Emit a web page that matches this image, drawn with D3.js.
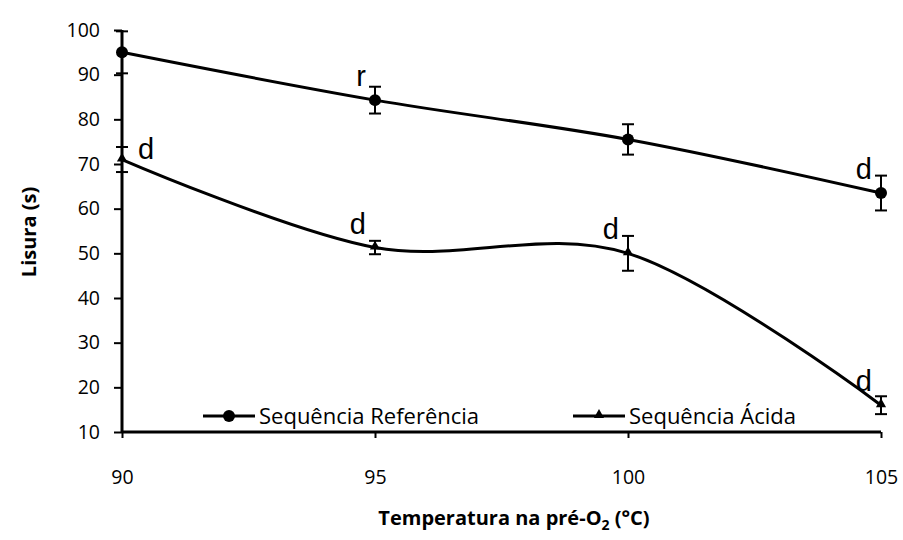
<!DOCTYPE html>
<html>
<head>
<meta charset="utf-8">
<script src="https://d3js.org/d3.v7.min.js"></script>
<style>
  body { margin: 0; background: #fff; }
  text { font-family: "Open Sans", sans-serif; fill: #000; }
</style>
</head>
<body>
<div id="viz"></div>
<script>
// chart values
var temps = [90, 95, 100, 105];
var refVals = [95.0, 84.3, 75.5, 63.5];
var refErr = [4.7, 3.0, 3.4, 3.9];
var refLabels = ["", "r", "", "d"];
var acidVals = [71.0, 51.3, 50.0, 16.0];
var acidErr = [2.8, 1.5, 3.9, 2.0];
var acidLabels = ["d", "d", "d", "d"];
var xTicks = [90, 95, 100, 105];
var yTicks = [10, 20, 30, 40, 50, 60, 70, 80, 90, 100];
var seriesNames = ["Sequência Referência", "Sequência Ácida"];

var width = 903, height = 540;
var x = d3.scaleLinear().domain([90, 105]).range([122, 881]);
var y = d3.scaleLinear().domain([10, 100]).range([432, 30]);

var svg = d3.select("#viz").append("svg")
    .attr("width", width)
    .attr("height", height);

// axes
var yAxis = svg.append("g")
    .attr("transform", "translate(" + x(90) + ",0)")
    .call(d3.axisLeft(y).tickValues(yTicks).tickSize(8).tickPadding(14));
var xAxis = svg.append("g")
    .attr("transform", "translate(0," + y(10) + ")")
    .call(d3.axisBottom(x).tickValues(xTicks).tickSize(6).tickPadding(32));

[yAxis, xAxis].forEach(function(ax) {
  ax.select(".domain").attr("stroke", "#000").attr("stroke-width", 3);
  ax.selectAll(".tick line").attr("stroke", "#000").attr("stroke-width", 2);
  ax.selectAll(".tick text")
    .style("font-family", "'Open Sans', sans-serif")
    .style("font-size", "19.5px")
    .attr("fill", "#000");
});
yAxis.select(".domain").attr("d", "M0," + y(100) + "V" + y(10));
xAxis.select(".domain").attr("d", "M" + x(90) + ",0H" + x(105));

// axis titles
svg.append("text")
    .attr("transform", "translate(36,232) rotate(-90)")
    .attr("text-anchor", "middle")
    .style("font-size", "20px")
    .style("font-weight", "bold")
    .text("Lisura (s)");

var xt = svg.append("text")
    .attr("x", 514)
    .attr("y", 525)
    .attr("text-anchor", "middle")
    .style("font-size", "20px")
    .style("font-weight", "bold");
xt.append("tspan").text("Temperatura na pré-O");
xt.append("tspan").attr("dy", 5).style("font-size", "14px").text("2");
xt.append("tspan").attr("dy", -5).text(" (°C)");

var line = d3.line()
    .x(function(d) { return x(d[0]); })
    .y(function(d) { return y(d[1]); })
    .curve(d3.curveCardinal.tension(0));

var triangle = d3.symbol().type(d3.symbolTriangle).size(45);

function drawSeries(vals, errs, labels, marker) {
  var pts = temps.map(function(t, i) { return [t, vals[i], errs[i], labels[i]]; });
  var g = svg.append("g");

  g.append("path")
      .datum(pts)
      .attr("d", line)
      .attr("fill", "none")
      .attr("stroke", "#000")
      .attr("stroke-width", 3);

  // error bars
  var eb = g.selectAll(".eb").data(pts).enter().append("g");
  eb.append("line")
      .attr("x1", function(d) { return x(d[0]); })
      .attr("x2", function(d) { return x(d[0]); })
      .attr("y1", function(d) { return y(d[1] + d[2]); })
      .attr("y2", function(d) { return y(d[1] - d[2]); })
      .attr("stroke", "#000").attr("stroke-width", 2);
  [1, -1].forEach(function(s) {
    eb.append("line")
      .attr("x1", function(d) { return x(d[0]) - 6; })
      .attr("x2", function(d) { return x(d[0]) + 6; })
      .attr("y1", function(d) { return y(d[1] + s * d[2]); })
      .attr("y2", function(d) { return y(d[1] + s * d[2]); })
      .attr("stroke", "#000").attr("stroke-width", 2);
  });

  // markers
  if (marker === "circle") {
    g.selectAll(".mk").data(pts).enter().append("circle")
        .attr("cx", function(d) { return x(d[0]); })
        .attr("cy", function(d) { return y(d[1]); })
        .attr("r", 6)
        .attr("fill", "#000");
  } else {
    g.selectAll(".mk").data(pts).enter().append("path")
        .attr("d", triangle)
        .attr("transform", function(d) { return "translate(" + x(d[0]) + "," + (y(d[1]) - 1) + ")"; })
        .attr("fill", "#000");
  }

  // letters
  g.selectAll(".lb").data(pts).enter().append("text")
      .attr("x", function(d, i) { return i === 0 ? x(d[0]) + 16 : x(d[0]) - 9; })
      .attr("y", function(d, i) { return i === 0 ? y(d[1]) - 1 : y(d[1]) - 14; })
      .attr("text-anchor", function(d, i) { return i === 0 ? "start" : "end"; })
      .style("font-family", "'Liberation Sans', Arial, sans-serif")
      .style("font-size", "29px")
      .text(function(d) { return d[3]; });
}

drawSeries(refVals, refErr, refLabels, "circle");
drawSeries(acidVals, acidErr, acidLabels, "triangle");

// legend
var legend = svg.append("g");
var legX = [203, 573];
seriesNames.forEach(function(name, i) {
  var lg = legend.append("g").attr("transform", "translate(" + legX[i] + ",416)");
  lg.append("line").attr("x1", 0).attr("x2", 52)
    .attr("stroke", "#000").attr("stroke-width", 3);
  if (i === 0) {
    lg.append("circle").attr("cx", 26).attr("r", 6).attr("fill", "#000");
  } else {
    lg.append("path").attr("d", triangle).attr("transform", "translate(26,-1)").attr("fill", "#000");
  }
  lg.append("text")
    .attr("x", 56)
    .attr("y", 8)
    .style("font-size", "22px")
    .text(name);
});
</script>
</body>
</html>
